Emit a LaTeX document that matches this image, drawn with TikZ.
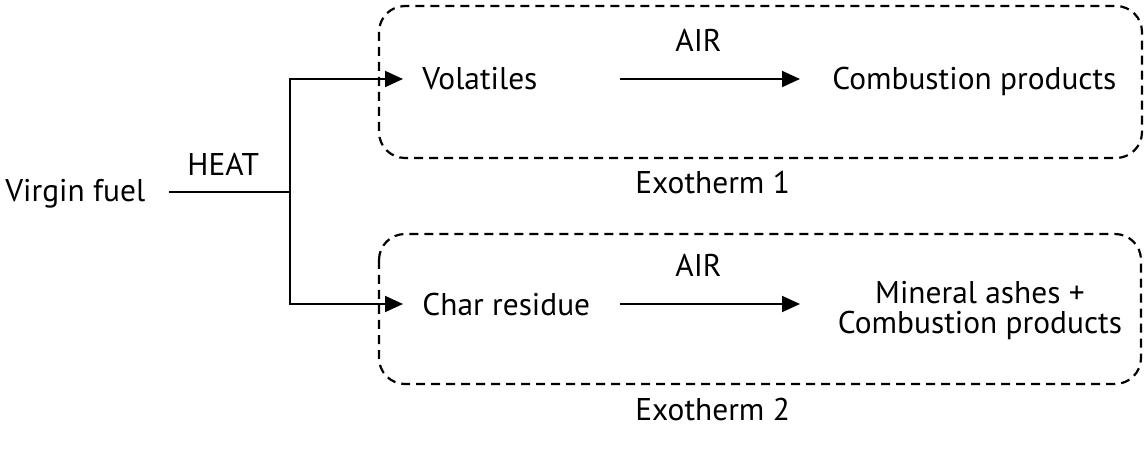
\documentclass[tikz,border=0pt]{standalone}
\usepackage{fontspec}
\setmainfont{PT Sans}
\usetikzlibrary{arrows.meta}
\begin{document}
\begin{tikzpicture}[x=0.5pt,y=-0.5pt,
  txt/.style={inner sep=0pt,anchor=base west,font=\fontsize{15.7}{15}\selectfont},
  conn/.style={line width=1pt},
  arr/.style={conn,-{Triangle[length=9pt,width=8pt]}},
  zone/.style={draw,line width=1.1pt,dash pattern=on 4.5pt off 3pt,rounded corners=13pt}]
\useasboundingbox (0,0) rectangle (1144,464);
% dashed zones
\draw[zone] (379,6) rectangle (1142,158);
\draw[zone] (379,234) rectangle (1141,384);
% texts
\node[txt] (vf) at (5,202) {Virgin fuel};
\node[txt] (heat) at (187,176) {HEAT};
\node[txt] (vol) at (422,90) {Volatiles};
\node[txt] (air1) at (675,52) {AIR};
\node[txt] (comb) at (832,90) {Combustion products};
\node[txt] (ex1) at (635,194) {Exotherm 1};
\node[txt] (char) at (422,315) {Char residue};
\node[txt] (air2) at (675,277) {AIR};
\node[inner sep=0pt,anchor=north,align=center,font=\fontsize{15.7}{15}\selectfont] (ash) at (980,281) {Mineral ashes +\\Combustion products};
\node[txt] (ex2) at (635,420) {Exotherm 2};
% connectors
\coordinate (s0) at (169,192);
\coordinate (j) at (290,192);
\coordinate (t1) at (403,79);
\coordinate (t2) at (403,304);
\coordinate (a1s) at (620,79);
\coordinate (a1e) at (800,79);
\coordinate (a2s) at (620,304);
\coordinate (a2e) at (800,304);
\draw[conn] (s0) -- (j);
\draw[arr] (j) |- (t1);
\draw[arr] (j) |- (t2);
\draw[arr] (a1s) -- (a1e);
\draw[arr] (a2s) -- (a2e);
\end{tikzpicture}
\end{document}
